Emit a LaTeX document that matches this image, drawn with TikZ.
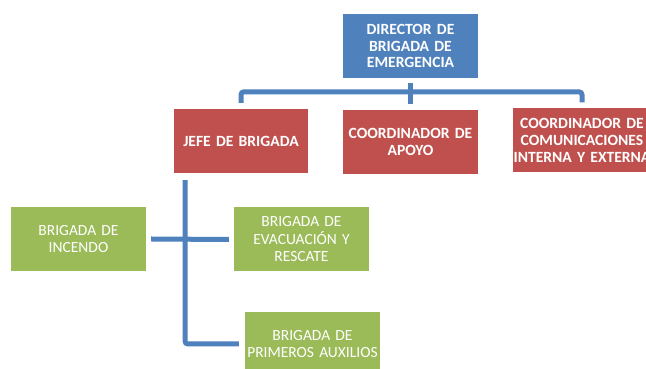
\documentclass[tikz,border=0pt]{standalone}
\usepackage{fontspec}
\setmainfont{Carlito}
\usetikzlibrary{positioning, calc}
\definecolor{ofblue}{HTML}{4F81BD}
\definecolor{ofred}{HTML}{C0504D}
\definecolor{ofgreen}{HTML}{9BBB59}

\begin{document}
\begin{tikzpicture}[x=1pt, y=1pt,
  box/.style={draw=none, text=white, align=center, inner xsep=0pt, inner ysep=2pt,
    minimum width=135pt, minimum height=64pt, text width=135pt},
  head/.style={box, fill=ofblue, font=\fontsize{15.6}{16.7}\selectfont\bfseries},
  chief/.style={box, fill=ofred, font=\fontsize{15.6}{16.7}\selectfont\bfseries},
  brig/.style={box, fill=ofgreen, font=\fontsize{15.5}{17.5}\selectfont},
  link/.style={ofblue, line width=5pt, rounded corners=3pt}]

% Frame (646 x 369)
\useasboundingbox (0,0) rectangle (646,369);
\clip (0,0) rectangle (646,369);
\fill[white] (0,0) rectangle (646,369);

% Top level
\node[head] (dir) at (410.5,323) {DIRECTOR DE\\BRIGADA DE\\EMERGENCIA};

% Second level
\node[chief, minimum width=134pt, text width=134pt] (jefe) at (241,228) {JEFE DE BRIGADA};
\node[chief] (apoyo) at (410.5,227) {COORDINADOR DE\\APOYO};
\node[chief, minimum width=138pt, text width=138pt] (comm) at (582,228.5)
  {COORDINADOR DE\\COMUNICACIONES\\\makebox[0pt]{INTERNA Y EXTERNA}};

% Brigades
\node[brig] (incendo) at (78.5,130) {BRIGADA DE\\INCENDO};
\node[brig] (evac) at (301.5,129.5) {BRIGADA DE\\EVACUACIÓN Y\\RESCATE};
\node[brig] (primeros) at (312.5,25) {BRIGADA DE\\PRIMEROS AUXILIOS};

% Connectors
\draw[link] ([yshift=6pt]jefe.north) -- ++(0,11) -| ([yshift=6pt]comm.north);
\draw[link] ([yshift=-5pt]dir.south) -- ([yshift=6pt]apoyo.north);
\draw[link] ([xshift=-56pt,yshift=-7pt]jefe.south) |- ([xshift=-6pt]primeros.west);
\draw[link] ([xshift=5pt]incendo.east) -- ([xshift=-5pt]evac.west);

\end{tikzpicture}
\end{document}
